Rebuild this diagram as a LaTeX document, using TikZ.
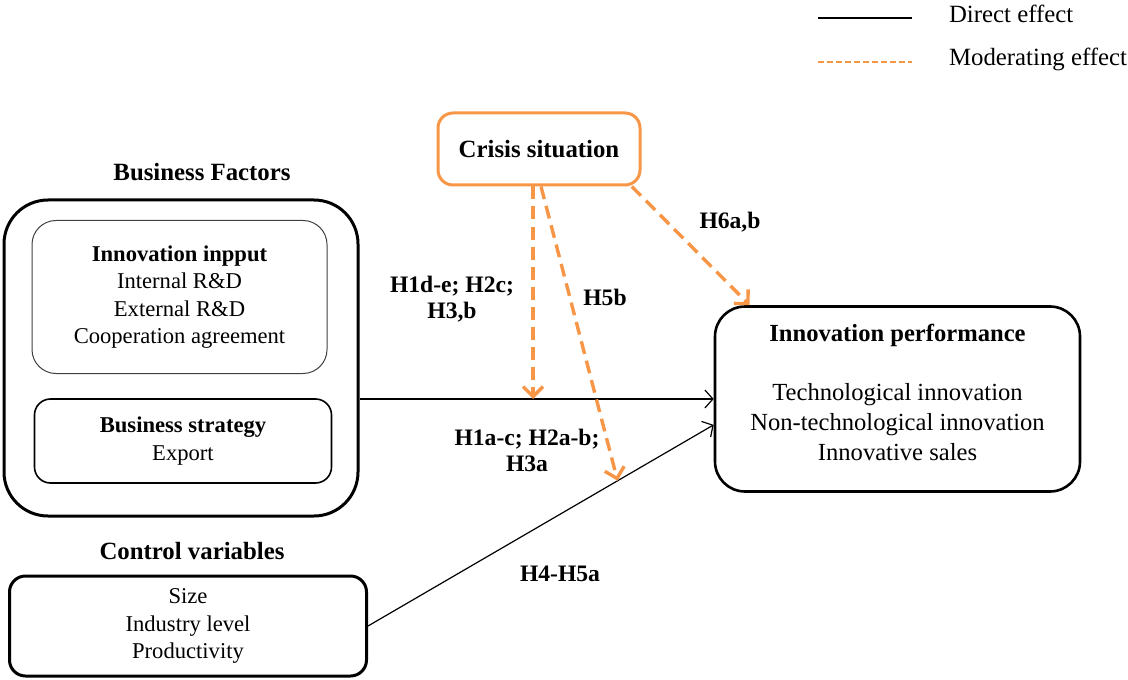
\documentclass[tikz,border=0pt]{standalone}
\usepackage{fontspec}
\setmainfont{Liberation Serif}
\usetikzlibrary{arrows.meta,calc}
\definecolor{crisisorange}{RGB}{247,150,70}

\begin{document}
\begin{tikzpicture}[x=0.5pt,y=-0.5pt,
   box/.style={draw,align=center,inner sep=0pt},
   title/.style={font=\fontsize{12.4}{14}\selectfont\bfseries},
   body/.style={font=\fontsize{11.3}{13.7}\selectfont},
   hyp/.style={font=\fontsize{11.8}{13}\selectfont\bfseries,align=center},
   direct/.style={-{Straight Barb[length=4pt,width=9pt]},line width=0.6pt},
   moder/.style={-{Straight Barb[length=5pt,width=10pt]},crisisorange,
      line width=1.7pt,dash pattern=on 6.5pt off 3.5pt}]
   \useasboundingbox (0,0) rectangle (1128,679);

   % legend
   \coordinate (k1) at (818,18);
   \coordinate (k2) at (912,18);
   \coordinate (k3) at (818,62);
   \coordinate (k4) at (912,62);
   \draw[line width=1.2pt] (k1) -- (k2);
   \draw[crisisorange,line width=0.8pt,dash pattern=on 3pt off 1.5pt] (k3) -- (k4);
   \node (Ld) [anchor=west,font=\fontsize{12.4}{14}\selectfont] at (942,14) {Direct effect};
   \node (Lm) [anchor=west,font=\fontsize{12.4}{14}\selectfont] at (942,59) {Moderating effect};

   \node (C) [box,draw=crisisorange,line width=1.5pt,rounded corners=7.5pt,
      minimum width=101pt,minimum height=36pt,title] at (539,149) {Crisis situation};

   \node (BFt) [title] at (202,172) {Business Factors};
   \node (BF) [box,line width=1.5pt,rounded corners=22pt,
      minimum width=177pt,minimum height=158pt] at (181,358) {};
   \node (II) [box,draw=black!75,line width=0.5pt,rounded corners=12pt,
      minimum width=147.5pt,minimum height=76.5pt,body] at (179.5,297)
      {\textbf{Innovation inpput}\\Internal R\&D\\External R\&D\\Cooperation agreement};
   \node (BS) [box,line width=0.8pt,rounded corners=8pt,
      minimum width=148.5pt,minimum height=42pt,body] at (183,441)
      {\textbf{Business strategy}\\Export};

   \node (CVt) [title] at (192,551) {Control variables};
   \node (CV) [box,line width=1.5pt,rounded corners=8pt,
      minimum width=178.5pt,minimum height=50pt,body] at (188,626)
      {Size\\Industry level\\Productivity};

   \node (IP) [box,line width=1.3pt,rounded corners=15pt,
      minimum width=182.5pt,minimum height=92.5pt] at (897.5,399) {};
   \node (IPt) [align=center,font=\fontsize{12.3}{15}\selectfont,yshift=3.5pt] at (IP)
      {\textbf{Innovation performance}\\[14.5pt]Technological innovation\\
       Non-technological innovation\\Innovative sales};

   \node (h1de) [hyp] at (452,299) {H1d-e; H2c;\\H3,b};
   \node (h5b)  [hyp] at (605,297) {H5b};
   \node (h6)   [hyp] at (730,222) {H6a,b};
   \node (h1ac) [hyp] at (527,450) {H1a-c; H2a-b;\\H3a};
   \node (h4)   [hyp] at (560,574) {H4-H5a};

   \coordinate (m2) at ($(CV.east)!0.722!(IP.188.7)$);

   \path[direct]
     (BF.east |- IP.west) edge (IP.west)
     (CV.east) edge (IP.188.7);
   \path[moder]
     ([xshift=-3pt]C.south) edge ([xshift=-3pt]C.south |- IP.west)
     ([xshift=1pt]C.south) edge (m2)
     (C.-22) edge ([xshift=18pt]IP.north west);
\end{tikzpicture}
\end{document}
